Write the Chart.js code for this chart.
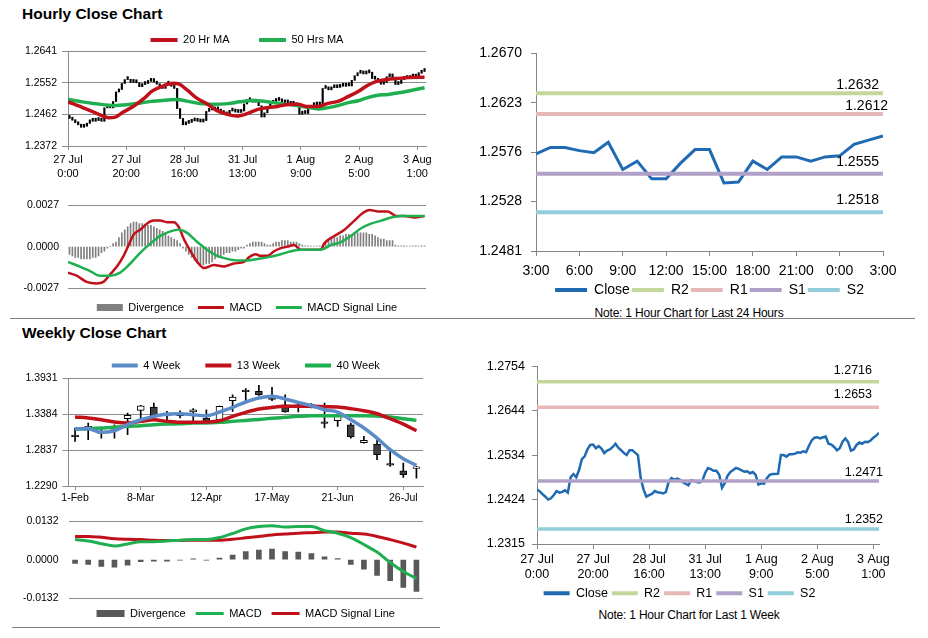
<!DOCTYPE html>
<html lang="en">
<head>
    <meta charset="UTF-8">
    <title>Hourly and Weekly Close Charts</title>
    <script src="https://cdn.jsdelivr.net/npm/chart.js"></script>
    <style>
        * { margin: 0; padding: 0; box-sizing: border-box; }
        body { background: #fff; font-family: Arial, "Liberation Sans", sans-serif; color: #000; }
        #page { position: relative; width: 928px; height: 638px; overflow: hidden; }
        .box { position: absolute; }
        .title { position: absolute; left: 22px; font-size: 15.5px; font-weight: bold; line-height: 1; }
        .note { position: absolute; font-size: 12px; line-height: 1; white-space: nowrap; transform: translateX(-50%); letter-spacing: -0.2px; }
        .rule { position: absolute; height: 1px; background: #808080; }
    </style>
</head>
<body>
<div id="page">
    <div class="title" style="top:6px">Hourly Close Chart</div>
    <div class="title" style="top:325px">Weekly Close Chart</div>

    <div class="box" style="left:0;top:5px;width:440px;height:181px"><canvas id="hourChart"></canvas></div>
    <div class="box" style="left:0;top:190px;width:440px;height:124px"><canvas id="hourMacd"></canvas></div>
    <div class="box" style="left:450px;top:36px;width:478px;height:265px"><canvas id="dayChart"></canvas></div>
    <div class="box" style="left:0;top:335px;width:440px;height:171px"><canvas id="weekChart"></canvas></div>
    <div class="box" style="left:0;top:505px;width:440px;height:115px"><canvas id="weekMacd"></canvas></div>
    <div class="box" style="left:470px;top:352px;width:458px;height:249px"><canvas id="lastWeekChart"></canvas></div>

    <div class="note" style="left:689px;top:307px">Note: 1 Hour Chart for Last 24 Hours</div>
    <div class="note" style="left:689px;top:609px">Note: 1 Hour Chart for Last 1 Week</div>
    <div class="rule" style="left:10px;top:318px;width:905px"></div>
    <div class="rule" style="left:12px;top:627px;width:428px"></div>
</div>
<script>
// ---- hourly data (27 Jul 0:00 .. 3 Aug 2:00) ----
const hourTicks = [['27 Jul', '0:00'], ['27 Jul', '20:00'], ['28 Jul', '16:00'], ['31 Jul', '13:00'],
                   ['1 Aug', '9:00'], ['2 Aug', '5:00'], ['3 Aug', '1:00']];
const hourTickStep = 20;
const hourYLabels = ['1.2372', '1.2462', '1.2552', '1.2641'];
const hourClose = [
    1.2450, 1.2445, 1.2438, 1.2432, 1.2425, 1.2428, 1.2436, 1.2446, 1.2442, 1.2444,
    1.2448, 1.2442, 1.2480, 1.2488, 1.2480, 1.2498, 1.2525, 1.2532, 1.2549, 1.2560,
    1.2561, 1.2552, 1.2557, 1.2551, 1.2540, 1.2546, 1.2549, 1.2555, 1.2563, 1.2553,
    1.2547, 1.2540, 1.2535, 1.2547, 1.2547, 1.2541, 1.2535, 1.2478, 1.2450, 1.2432,
    1.2436, 1.2439, 1.2446, 1.2443, 1.2442, 1.2440, 1.2444, 1.2470, 1.2478, 1.2474,
    1.2477, 1.2474, 1.2468, 1.2464, 1.2460, 1.2473, 1.2471, 1.2468, 1.2467, 1.2471,
    1.2491, 1.2503, 1.2500, 1.2496, 1.2496, 1.2486, 1.2454, 1.2466, 1.2484, 1.2493,
    1.2498, 1.2503, 1.2501, 1.2497, 1.2494, 1.2495, 1.2490, 1.2493, 1.2486, 1.2462,
    1.2465, 1.2464, 1.2478, 1.2486, 1.2488, 1.2488, 1.2489, 1.2535, 1.2535, 1.2531,
    1.2537, 1.2537, 1.2538, 1.2542, 1.2541, 1.2544, 1.2542, 1.2558, 1.2571, 1.2578,
    1.2579, 1.2576, 1.2579, 1.2581, 1.2563, 1.2561, 1.2555, 1.2547, 1.2552, 1.2568,
    1.2576, 1.2567, 1.2546, 1.2549, 1.2560, 1.2566, 1.2563, 1.2568, 1.2567, 1.2571,
    1.2578, 1.2583, 1.2590
];
const ma20X = [0, 5, 10, 14, 16, 19, 23, 26, 29, 33, 36, 38, 41, 44, 48, 51, 55, 58, 62, 65,
               69, 72, 75, 79, 82, 86, 89, 93, 96, 100, 103, 106, 110, 113, 117, 122.5];
const hourMa20 = [1.2497, 1.2481, 1.2464, 1.2452, 1.2453, 1.2468, 1.2487, 1.2506, 1.2528, 1.2543,
                  1.2550, 1.2548, 1.2530, 1.2509, 1.2490, 1.2473, 1.2461, 1.2457, 1.2465, 1.2475,
                  1.2481, 1.2484, 1.2489, 1.2490, 1.2484, 1.2484, 1.2492, 1.2499, 1.2511, 1.2528,
                  1.2544, 1.2555, 1.2561, 1.2563, 1.2566, 1.2567];
const ma50X = [0, 5, 11, 16, 20, 25, 29, 34, 37.5, 41, 45.5, 50, 55, 59, 64, 68.5, 73, 78, 82, 86,
               89, 93, 96, 100, 103, 106, 110, 113, 117, 122.5];
const hourMa50 = [1.2504, 1.2497, 1.2490, 1.2487, 1.2489, 1.2494, 1.2499, 1.2502, 1.2504, 1.2499,
                  1.2492, 1.2490, 1.2492, 1.2497, 1.2501, 1.2497, 1.2492, 1.2487, 1.2482, 1.2477,
                  1.2480, 1.2487, 1.2494, 1.2501, 1.2509, 1.2515, 1.2518, 1.2522, 1.2528, 1.2537];

const hourMacdLabels = ['-0.0027', '0.0000', '0.0027'];
const macdX = [0, 3, 6.4, 9.8, 12.2, 14.5, 16.8, 19.1, 20.8, 22.6, 24.8, 27.1, 29.4, 31.7, 34, 36.3,
               38, 39.8, 42.1, 44.4, 46.7, 50.1, 53.6, 57, 60.5, 62.2, 64.5, 66.2, 68.5, 70.8, 73.1,
               75.4, 77.7, 80, 83.5, 86.9, 88, 91.5, 95, 98.4, 101.3, 103.6, 106.4, 109.9, 112.8,
               115.6, 119.1, 122.5];
const hourMacd = [-0.0017, -0.0019, -0.0023, -0.0024, -0.0023, -0.0018, -0.0013, -0.0006, 0.0001, 0.0008,
                  0.0011, 0.0015, 0.0017, 0.0017, 0.0016, 0.0016, 0.0013, 0.0005, -0.0003, -0.0010,
                  -0.0014, -0.0012, -0.0013, -0.0011, -0.0010, -0.0007, -0.0005, -0.0006, -0.0006, -0.0003,
                  -0.0001, 0.0000, 0.0001, -0.0002, -0.0002, -0.0002, 0.0002, 0.0007, 0.0011, 0.0017,
                  0.0022, 0.0024, 0.0023, 0.0023, 0.0020, 0.0020, 0.0019, 0.0020];
const signalX = [0, 4.1, 7.6, 11, 14.5, 17.9, 21.4, 24.8, 28.3, 31.7, 35.2, 38, 40.9, 44.4, 47.8, 51.3,
                 54.7, 58.2, 61.6, 65.1, 68.5, 73.1, 76.6, 80, 83.5, 86.9, 90.3, 93.8, 97.2, 100.7,
                 104.1, 107.6, 111, 114.5, 119.1, 122.5];
const hourSignal = [-0.0010, -0.0013, -0.0016, -0.0019, -0.0019, -0.0017, -0.0011, -0.0004, 0.0002, 0.0007,
                    0.0010, 0.0011, 0.0009, 0.0003, -0.0002, -0.0006, -0.0008, -0.0009, -0.0009, -0.0008,
                    -0.0007, -0.0005, -0.0003, -0.0002, -0.0002, -0.0002, 0.0001, 0.0003, 0.0007, 0.0012,
                    0.0015, 0.0017, 0.0019, 0.0020, 0.0020, 0.0020];
const hourDivergence = [
    -0.0005, -0.0006, -0.0007, -0.0007, -0.0008, -0.0008, -0.0008, -0.0008, -0.0007, -0.0007,
    -0.0006, -0.0004, -0.0003, -0.0001, 0.0000, 0.0002, 0.0003, 0.0006, 0.0009, 0.0011,
    0.0013, 0.0015, 0.0016, 0.0016, 0.0015, 0.0015, 0.0014, 0.0014, 0.0014, 0.0013,
    0.0012, 0.0011, 0.0010, 0.0008, 0.0007, 0.0006, 0.0005, 0.0004, 0.0002, -0.0001,
    -0.0003, -0.0005, -0.0007, -0.0009, -0.0011, -0.0012, -0.0012, -0.0011, -0.0011, -0.0010,
    -0.0008, -0.0007, -0.0006, -0.0005, -0.0004, -0.0004, -0.0003, -0.0003, -0.0002, -0.0001,
    -0.0001, 0.0001, 0.0002, 0.0003, 0.0003, 0.0003, 0.0003, 0.0002, 0.0001, 0.0001,
    0.0002, 0.0003, 0.0003, 0.0004, 0.0004, 0.0004, 0.0003, 0.0003, 0.0003, 0.0002,
    0.0001, 0.00005, 0.00005, 0.00003, 0.00003, 0.00003, 0.00005, 0.0001, 0.0003, 0.0004,
    0.0005, 0.0006, 0.0006, 0.0007, 0.0007, 0.0008, 0.0008, 0.0008, 0.0008, 0.0009,
    0.0009, 0.0009, 0.0009, 0.0008, 0.0008, 0.0007, 0.0006, 0.0005, 0.0005, 0.0004,
    0.0004, 0.0004, 0.0001, 0.00005, 0.00005, 0.00005, 0.00003, 0.00003, 0.00005, 0.00005,
    0.00003, 0.00005, 0.00005
];

// ---- last 24 hours ----
const dayTicks = ['3:00', '6:00', '9:00', '12:00', '15:00', '18:00', '21:00', '0:00', '3:00'];
const dayTickStep = 3;
const dayYLabels = ['1.2481', '1.2528', '1.2576', '1.2623', '1.2670'];
const dayClose = [1.2574, 1.2580, 1.2580, 1.2577, 1.2575, 1.2585, 1.2559, 1.2567, 1.2550, 1.2550,
                  1.2565, 1.2578, 1.2578, 1.2546, 1.2547, 1.2567, 1.2559, 1.2571, 1.2571, 1.2567,
                  1.2571, 1.2572, 1.2583, 1.2587, 1.2591];
const levelNames = ['R2', 'R1', 'S1', 'S2'];
const dayLevels = [1.2632, 1.2612, 1.2555, 1.2518];

// ---- last week (hourly) ----
const lastWeekYLabels = ['1.2315', '1.2424', '1.2534', '1.2644', '1.2754'];
const lastWeekLevels = [1.2716, 1.2653, 1.2471, 1.2352];

// ---- weekly data ----
const weekDates = ['1-Feb', '8-Feb', '15-Feb', '22-Feb', '1-Mar', '8-Mar', '15-Mar', '22-Mar', '29-Mar',
                   '5-Apr', '12-Apr', '19-Apr', '26-Apr', '3-May', '10-May', '17-May', '24-May', '31-May',
                   '7-Jun', '14-Jun', '21-Jun', '28-Jun', '5-Jul', '12-Jul', '19-Jul', '26-Jul', '2-Aug'];
const weekTickStep = 5;
const weekYLabels = ['1.2290', '1.2837', '1.3384', '1.3931'];
const weekOpen  = [1.3048, 1.3175, 1.3110, 1.3126, 1.3312, 1.3439, 1.3490, 1.3355, 1.3358, 1.3414,
                   1.3323, 1.3297, 1.3586, 1.3733, 1.3728, 1.3617, 1.3525, 1.3525, 1.3505, 1.3252,
                   1.3282, 1.3221, 1.2947, 1.2927, 1.2618, 1.2522, 1.2557];
const weekHigh  = [1.3171, 1.3247, 1.3171, 1.3221, 1.3399, 1.3515, 1.3551, 1.3424, 1.3434, 1.3465,
                   1.3449, 1.3505, 1.3677, 1.3769, 1.3819, 1.3789, 1.3677, 1.3541, 1.3541, 1.3551,
                   1.3424, 1.3247, 1.3044, 1.2993, 1.2816, 1.2638, 1.2587];
const weekLow   = [1.2968, 1.2993, 1.3018, 1.3018, 1.3069, 1.3323, 1.3297, 1.3272, 1.3323, 1.3272,
                   1.3270, 1.3272, 1.3424, 1.3576, 1.3667, 1.3586, 1.3410, 1.3414, 1.3475, 1.3171,
                   1.3196, 1.3018, 1.2940, 1.2689, 1.2587, 1.2420, 1.2410];
const weekClose = [1.3040, 1.3185, 1.3090, 1.3134, 1.3363, 1.3510, 1.3338, 1.3362, 1.3399, 1.3449,
                   1.3275, 1.3500, 1.3642, 1.3723, 1.3677, 1.3607, 1.3414, 1.3485, 1.3515, 1.3242,
                   1.3348, 1.3034, 1.2983, 1.2765, 1.2608, 1.2461, 1.2567];
const week4  = [1.3160, 1.3160, 1.3105, 1.3130, 1.3221, 1.3297, 1.3348, 1.3383, 1.3388, 1.3373,
                1.3358, 1.3414, 1.3485, 1.3566, 1.3627, 1.3652, 1.3612, 1.3561, 1.3510, 1.3449,
                1.3414, 1.3297, 1.3171, 1.3018, 1.2841, 1.2704, 1.2603];
const week13 = [1.3338, 1.3323, 1.3297, 1.3262, 1.3247, 1.3272, 1.3297, 1.3272, 1.3257, 1.3257,
                1.3262, 1.3282, 1.3348, 1.3409, 1.3459, 1.3485, 1.3500, 1.3500, 1.3500, 1.3495,
                1.3490, 1.3465, 1.3434, 1.3388, 1.3312, 1.3231, 1.3130];
const week40 = [1.3155, 1.3160, 1.3171, 1.3181, 1.3196, 1.3206, 1.3221, 1.3231, 1.3236, 1.3247,
                1.3247, 1.3257, 1.3272, 1.3287, 1.3302, 1.3318, 1.3333, 1.3348, 1.3358, 1.3358,
                1.3358, 1.3358, 1.3358, 1.3353, 1.3338, 1.3312, 1.3287];
const weekMacdLabels = ['-0.0132', '0.0000', '0.0132'];
const weekMacd   = [0.0069, 0.0064, 0.0055, 0.0047, 0.0054, 0.0062, 0.0062, 0.0064, 0.0067, 0.0069,
                    0.0069, 0.0076, 0.0090, 0.0106, 0.0114, 0.0117, 0.0112, 0.0114, 0.0114, 0.0100,
                    0.0091, 0.0076, 0.0052, 0.0026, -0.0010, -0.0041, -0.0065];
const weekSignal = [0.0080, 0.0080, 0.0077, 0.0072, 0.0070, 0.0069, 0.0067, 0.0066, 0.0066, 0.0067,
                    0.0067, 0.0067, 0.0070, 0.0075, 0.0080, 0.0085, 0.0088, 0.0091, 0.0093, 0.0095,
                    0.0095, 0.0091, 0.0088, 0.0080, 0.0069, 0.0057, 0.0043];
const weekDivergence = [-0.0013, -0.0016, -0.0023, -0.0026, -0.0019, -0.0007, -0.0005, -0.0005, -0.0002, 0.0003,
                        -0.0002, 0.0005, 0.0016, 0.0028, 0.0033, 0.0036, 0.0028, 0.0026, 0.0021, 0.0010,
                        0.0004, -0.0016, -0.0033, -0.0054, -0.0072, -0.0096, -0.0109];

// ---- styling ----
const RED = '#C0101A';
const GREEN = '#1FAF50';
const BLUE4 = '#5B8CC9';
const CLOSE_BLUE = '#1F6AB3';
const LEVEL_COLORS = ['#C4D79B', '#E6B9B8', '#B1A0C7', '#92CDDC'];
const GRID = '#8c8c8c';

Chart.defaults.font.family = 'Arial, "Liberation Sans", sans-serif';
Chart.defaults.color = '#000';

function evenTicks(labels) {
    return scale => {
        const n = labels.length - 1;
        scale.ticks = labels.map((_, k) => ({ value: scale.min + (scale.max - scale.min) * k / n }));
    };
}
function stepTicks(labels, step) {
    return scale => { scale.ticks = labels.map((_, k) => ({ value: k * step })); };
}
function pointsOf(xs, ys) {
    return ys.map((y, k) => ({ x: xs[k], y: y }));
}
function legendItems(lineWidth) {
    return chart => Chart.defaults.plugins.legend.labels.generateLabels(chart)
        .filter(item => item.text)
        .map(item => {
            const ds = chart.data.datasets[item.datasetIndex];
            const isBar = ds.type === 'bar';
            item.pointStyle = isBar ? 'rect' : 'line';
            item.lineWidth = isBar ? 0 : lineWidth;
            item.fillStyle = isBar ? ds.backgroundColor : ds.borderColor;
            item.strokeStyle = ds.borderColor;
            return item;
        });
}
function legend(opts) {
    return {
        position: opts.position,
        fullSize: opts.fullSize,
        maxHeight: opts.maxHeight,
        labels: {
            usePointStyle: true,
            pointStyleWidth: opts.boxWidth,
            boxHeight: 7,
            padding: opts.padding,
            font: { size: opts.size },
            sort: (a, b) => a.datasetIndex - b.datasetIndex,
            generateLabels: legendItems(opts.lineWidth)
        }
    };
}
const base = {
    responsive: true,
    maintainAspectRatio: false,
    animation: false,
    devicePixelRatio: 1,
    events: []
};

// value labels written above the right end of the level lines
const levelLabels = {
    id: 'levelLabels',
    afterDatasetsDraw(chart, args, options) {
        const ctx = chart.ctx;
        chart.data.datasets.forEach((ds, k) => {
            if (!ds.valueLabel) return;
            const pts = chart.getDatasetMeta(k).data;
            const last = pts[pts.length - 1];
            ctx.save();
            ctx.font = options.size + 'px Arial, "Liberation Sans", sans-serif';
            ctx.fillStyle = '#000';
            ctx.textAlign = 'right';
            ctx.textBaseline = 'middle';
            ctx.fillText(ds.valueLabel, last.x + ds.labelDx, last.y + ds.labelDy);
            ctx.restore();
        });
    }
};

// ---- Hourly close chart ----
new Chart(document.getElementById('hourChart'), {
    type: 'bar',
    data: {
        datasets: [
            { type: 'line', label: '20 Hr MA', data: pointsOf(ma20X, hourMa20), borderColor: RED,
              borderWidth: 3.5, pointRadius: 0, cubicInterpolationMode: 'monotone', order: 0 },
            { type: 'line', label: '50 Hrs MA', data: pointsOf(ma50X, hourMa50), borderColor: GREEN,
              borderWidth: 3.5, pointRadius: 0, cubicInterpolationMode: 'monotone', order: 1 },
            { type: 'bar', label: '', order: 2, grouped: false,
              data: hourClose.map((c, i) => ({ x: i + 0.5, y: [i ? hourClose[i - 1] : c, c] })),
              backgroundColor: '#000', barThickness: 1.5, minBarLength: 3 }
        ]
    },
    options: Object.assign({}, base, {
        layout: { padding: { left: 0, right: 14, top: 0, bottom: 0 } },
        scales: {
            x: {
                type: 'linear', min: 0, max: hourClose.length, offset: false,
                afterFit: s => { s.height = 40; },
                afterBuildTicks: stepTicks(hourTicks, hourTickStep),
                ticks: { callback: (v, k) => hourTicks[k], autoSkip: false, maxRotation: 0, padding: 3,
                         font: { size: 11, lineHeight: 1.25 } },
                grid: { drawOnChartArea: false, color: GRID, tickLength: 4, offset: false },
                border: { color: GRID }
            },
            y: {
                min: 1.2372, max: 1.2641,
                afterFit: s => { s.width = 68; },
                afterBuildTicks: evenTicks(hourYLabels),
                ticks: { callback: (v, k) => hourYLabels[k], padding: 5, font: { size: 10.5 } },
                grid: { color: GRID, tickLength: 6 },
                border: { color: GRID }
            }
        },
        plugins: {
            legend: legend({ position: 'top', fullSize: false, maxHeight: 46, padding: 29.5, boxWidth: 27, size: 11, lineWidth: 4 }),
            tooltip: { enabled: false }
        }
    })
});

// ---- Hourly MACD ----
new Chart(document.getElementById('hourMacd'), {
    type: 'bar',
    data: {
        datasets: [
            { type: 'bar', label: 'Divergence', order: 2, grouped: false,
              data: hourDivergence.map((d, i) => ({ x: i + 0.5, y: d })),
              backgroundColor: '#7f7f7f', borderColor: '#7f7f7f', barThickness: 1 },
            { type: 'line', label: 'MACD', data: pointsOf(macdX, hourMacd), borderColor: RED,
              borderWidth: 2.5, pointRadius: 0, cubicInterpolationMode: 'monotone', order: 1 },
            { type: 'line', label: 'MACD Signal Line', data: pointsOf(signalX, hourSignal), borderColor: GREEN,
              borderWidth: 2.5, pointRadius: 0, cubicInterpolationMode: 'monotone', order: 0 }
        ]
    },
    options: Object.assign({}, base, {
        layout: { padding: { left: 0, right: 14, top: 8, bottom: 0 } },
        scales: {
            x: { type: 'linear', display: false, min: 0, max: hourClose.length, offset: false },
            y: {
                min: -0.0027, max: 0.0027,
                afterFit: s => { s.width = 68; },
                afterBuildTicks: evenTicks(hourMacdLabels),
                ticks: { callback: (v, k) => hourMacdLabels[k], padding: 9, font: { size: 10.5 } },
                grid: { color: c => c.index === 1 ? 'rgba(0,0,0,0)' : GRID, drawTicks: false },
                border: { display: false }
            }
        },
        plugins: {
            legend: legend({ position: 'bottom', fullSize: false, maxHeight: 26, padding: 14, boxWidth: 26, size: 11, lineWidth: 3 }),
            tooltip: { enabled: false }
        }
    })
});

// ---- Close, last 24 hours ----
new Chart(document.getElementById('dayChart'), {
    type: 'line',
    data: {
        datasets: [
            { label: 'Close', data: dayClose.map((v, i) => ({ x: i, y: v })), borderColor: CLOSE_BLUE,
              borderWidth: 3, pointRadius: 0, order: 5 }
        ].concat(levelNames.map((name, k) => ({
            label: name, order: 4 - k,
            data: [{ x: 0, y: dayLevels[k] }, { x: dayClose.length - 1, y: dayLevels[k] }],
            borderColor: LEVEL_COLORS[k], borderWidth: 4, pointRadius: 0,
            valueLabel: dayLevels[k].toFixed(4),
            labelDx: k === 1 ? 5 : -4, labelDy: [-8, -8, -11, -12][k]
        })))
    },
    options: Object.assign({}, base, {
        layout: { padding: { left: 0, right: 45, top: 10, bottom: 0 } },
        scales: {
            x: {
                type: 'linear', min: 0, max: dayClose.length - 1,
                afterFit: s => { s.height = 30; },
                afterBuildTicks: stepTicks(dayTicks, dayTickStep),
                ticks: { callback: (v, k) => dayTicks[k], autoSkip: false, maxRotation: 0, padding: 7, font: { size: 14 } },
                grid: { drawOnChartArea: false, color: '#868686', tickLength: 5 },
                border: { color: '#868686' }
            },
            y: {
                min: 1.2481, max: 1.2670,
                afterFit: s => { s.width = 86; },
                afterBuildTicks: evenTicks(dayYLabels),
                ticks: { callback: (v, k) => dayYLabels[k], padding: 9, font: { size: 14 } },
                grid: { drawOnChartArea: false, color: '#868686', tickLength: 5 },
                border: { color: '#868686' }
            }
        },
        plugins: {
            legend: legend({ position: 'bottom', fullSize: false, maxHeight: 20, padding: 2, boxWidth: 32, size: 14, lineWidth: 4 }),
            tooltip: { enabled: false },
            levelLabels: { size: 14 }
        }
    }),
    plugins: [levelLabels]
});

// ---- Weekly close chart ----
new Chart(document.getElementById('weekChart'), {
    type: 'bar',
    data: {
        datasets: [
            { type: 'line', label: '4 Week', data: week4.map((v, j) => ({ x: j, y: v })), borderColor: BLUE4,
              borderWidth: 3.5, pointRadius: 0, cubicInterpolationMode: 'monotone', order: 0 },
            { type: 'line', label: '13 Week', data: week13.map((v, j) => ({ x: j, y: v })), borderColor: RED,
              borderWidth: 3.5, pointRadius: 0, cubicInterpolationMode: 'monotone', order: 1 },
            { type: 'line', label: '40 Week', data: week40.map((v, j) => ({ x: j, y: v })), borderColor: GREEN,
              borderWidth: 3.5, pointRadius: 0, cubicInterpolationMode: 'monotone', order: 2 },
            { type: 'bar', label: '', order: 4, grouped: false,
              data: weekHigh.map((h, j) => ({ x: j, y: [weekLow[j], h] })),
              backgroundColor: '#000', barThickness: 1 },
            { type: 'bar', label: '', order: 3, grouped: false,
              data: weekOpen.map((o, j) => ({ x: j, y: [o, weekClose[j]] })),
              backgroundColor: weekOpen.map((o, j) => weekClose[j] >= o ? '#fff' : '#404040'),
              borderColor: '#000', borderWidth: 1, borderSkipped: false, barThickness: 7, minBarLength: 1.5 }
        ]
    },
    options: Object.assign({}, base, {
        layout: { padding: { left: 0, right: 17, top: 0, bottom: 0 } },
        scales: {
            x: {
                type: 'linear', min: -0.5, max: weekDates.length - 0.5, offset: false,
                afterFit: s => { s.height = 20; },
                afterBuildTicks: s => { s.ticks = weekDates.filter((_, j) => j % weekTickStep === 0).map((_, k) => ({ value: k * weekTickStep })); },
                ticks: { callback: v => weekDates[v], autoSkip: false, maxRotation: 0, padding: 2, font: { size: 10.5 } },
                grid: { drawOnChartArea: false, color: GRID, tickLength: 4, offset: false },
                border: { color: GRID }
            },
            y: {
                min: 1.2290, max: 1.3931,
                afterFit: s => { s.width = 68.5; },
                afterBuildTicks: evenTicks(weekYLabels),
                ticks: { callback: (v, k) => weekYLabels[k], padding: 5, font: { size: 10.5 } },
                grid: { color: GRID, tickLength: 6 },
                border: { color: GRID }
            }
        },
        plugins: {
            legend: legend({ position: 'top', fullSize: false, maxHeight: 43, padding: 25, boxWidth: 26, size: 11, lineWidth: 4 }),
            tooltip: { enabled: false }
        }
    })
});

// ---- Weekly MACD ----
new Chart(document.getElementById('weekMacd'), {
    type: 'bar',
    data: {
        datasets: [
            { type: 'bar', label: 'Divergence', order: 2, grouped: false,
              data: weekDivergence.map((d, j) => ({ x: j, y: d })),
              backgroundColor: '#595959', borderColor: '#595959', barThickness: 5 },
            { type: 'line', label: 'MACD', data: weekMacd.map((v, j) => ({ x: j, y: v })), borderColor: GREEN,
              borderWidth: 3, pointRadius: 0, cubicInterpolationMode: 'monotone', order: 0 },
            { type: 'line', label: 'MACD Signal Line', data: weekSignal.map((v, j) => ({ x: j, y: v })), borderColor: RED,
              borderWidth: 3, pointRadius: 0, cubicInterpolationMode: 'monotone', order: 1 }
        ]
    },
    options: Object.assign({}, base, {
        layout: { padding: { left: 0, right: 17, top: 8, bottom: 0 } },
        scales: {
            x: { type: 'linear', display: false, min: -0.5, max: weekDates.length - 0.5, offset: false },
            y: {
                min: -0.0132, max: 0.0132,
                afterFit: s => { s.width = 68.5; },
                afterBuildTicks: evenTicks(weekMacdLabels),
                ticks: { callback: (v, k) => weekMacdLabels[k], padding: 10, font: { size: 10.5 } },
                grid: { color: c => c.index === 1 ? 'rgba(0,0,0,0)' : GRID, drawTicks: false },
                border: { display: false }
            }
        },
        plugins: {
            legend: legend({ position: 'bottom', fullSize: false, maxHeight: 22, padding: 10, boxWidth: 28, size: 11, lineWidth: 3 }),
            tooltip: { enabled: false }
        }
    })
});

// ---- Close, last week (hourly) ----
new Chart(document.getElementById('lastWeekChart'), {
    type: 'line',
    data: {
        datasets: [
            { label: 'Close', data: hourClose.map((v, i) => ({ x: i, y: v })), borderColor: CLOSE_BLUE,
              borderWidth: 2.5, pointRadius: 0, order: 5 }
        ].concat(levelNames.map((name, k) => ({
            label: name, order: 4 - k,
            data: [{ x: 0, y: lastWeekLevels[k] }, { x: hourClose.length - 1, y: lastWeekLevels[k] }],
            borderColor: LEVEL_COLORS[k], borderWidth: 3.5, pointRadius: 0,
            valueLabel: lastWeekLevels[k].toFixed(4),
            labelDx: k < 2 ? -7 : 4, labelDy: [-11, -13, -8, -9][k]
        })))
    },
    options: Object.assign({}, base, {
        layout: { padding: { left: 10, right: 49, top: 10, bottom: 0 } },
        scales: {
            x: {
                type: 'linear', min: 0, max: hourClose.length - 1,
                afterFit: s => { s.height = 39; },
                afterBuildTicks: stepTicks(hourTicks, hourTickStep),
                ticks: { callback: (v, k) => hourTicks[k], autoSkip: false, maxRotation: 0, padding: 3,
                         font: { size: 12.5, lineHeight: 1.18 } },
                grid: { drawOnChartArea: false, color: '#868686', tickLength: 5 },
                border: { color: '#868686' }
            },
            y: {
                min: 1.2315, max: 1.2754,
                afterFit: s => { s.width = 57; },
                afterBuildTicks: evenTicks(lastWeekYLabels),
                ticks: { callback: (v, k) => lastWeekYLabels[k], padding: 7, font: { size: 12.5 } },
                grid: { drawOnChartArea: false, color: '#868686', tickLength: 5 },
                border: { color: '#868686' }
            }
        },
        plugins: {
            legend: legend({ position: 'bottom', fullSize: true, maxHeight: 18, padding: 4, boxWidth: 26, size: 12.5, lineWidth: 4 }),
            tooltip: { enabled: false },
            levelLabels: { size: 12.5 }
        }
    }),
    plugins: [levelLabels]
});
</script>
</body>
</html>
